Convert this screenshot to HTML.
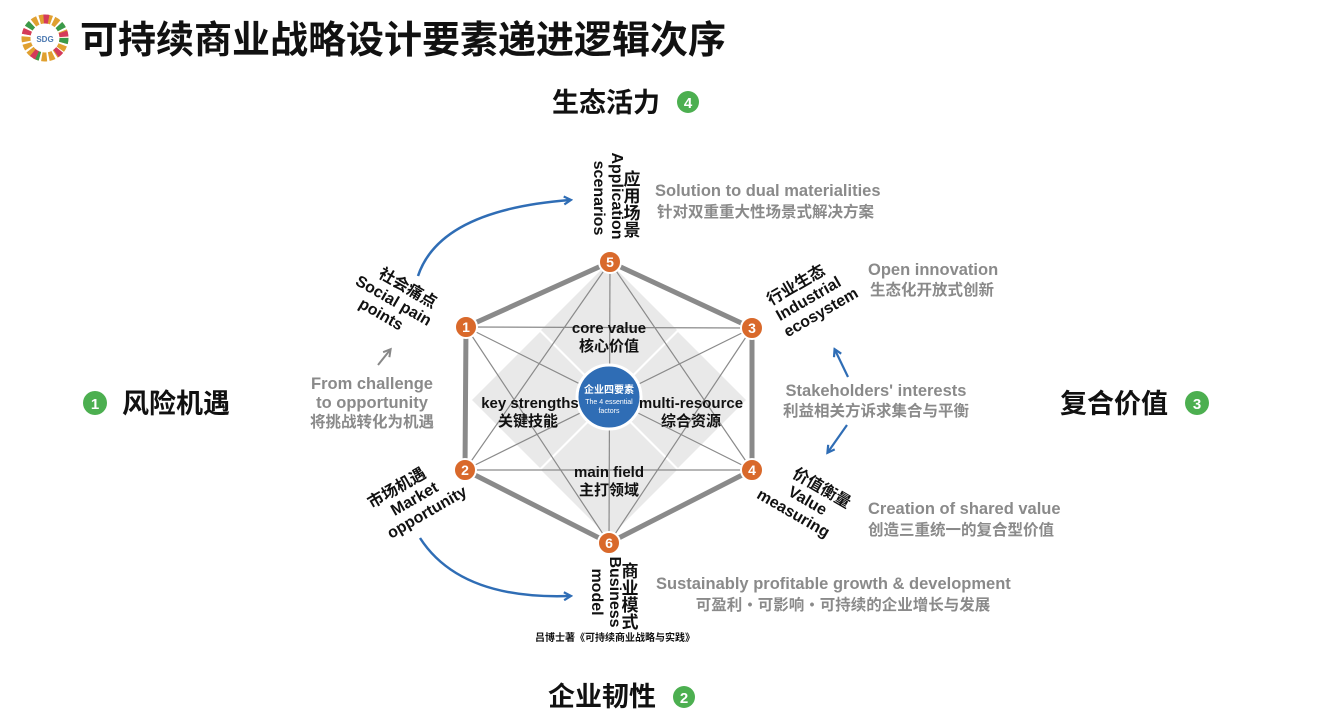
<!DOCTYPE html>
<html><head><meta charset="utf-8"><style>
body{margin:0;background:#fff;width:1320px;height:713px;overflow:hidden}
svg{display:block}
text{font-family:"Liberation Sans","Noto Sans CJK SC",sans-serif}
.b{font-weight:bold;fill:#111}
.g{font-weight:bold;fill:#8a8a8a;font-size:16.5px}
.gc{font-weight:bold;fill:#8a8a8a;font-size:15.5px}
</style></head><body>
<svg width="1320" height="713" viewBox="0 0 1320 713">
<defs>
<marker id="ab" markerWidth="10" markerHeight="10" refX="7" refY="5" orient="auto" markerUnits="userSpaceOnUse"><path d="M1,1 L8,5 L1,9" fill="none" stroke="#2f6db5" stroke-width="2.2"/></marker>
<marker id="ag" markerWidth="10" markerHeight="10" refX="7" refY="5" orient="auto" markerUnits="userSpaceOnUse"><path d="M1,1 L8,5 L1,9" fill="none" stroke="#888" stroke-width="2"/></marker>
</defs>
<!-- logo -->
<circle cx="45" cy="38" r="19" fill="none" stroke="#e0a030" stroke-width="9" stroke-dasharray="5 2"/>
<circle cx="45" cy="38" r="19" fill="none" stroke="#3a9a4a" stroke-width="9" stroke-dasharray="5 30" />
<circle cx="45" cy="38" r="19" fill="none" stroke="#d43a5a" stroke-width="9" stroke-dasharray="5 20" stroke-dashoffset="12"/>
<circle cx="45" cy="38" r="12" fill="#fff"/>
<text x="45" y="42" font-size="8" text-anchor="middle" fill="#4a78b0" font-weight="bold">SDG</text>
<text x="80" y="53" font-size="38" class="b">可持续商业战略设计要素递进逻辑次序</text>

<!-- side labels -->
<text x="552" y="112" font-size="27" class="b">生态活力</text>
<circle cx="688" cy="102" r="11" fill="#4caf50"/><text x="688" y="108" font-size="15" fill="#fff" text-anchor="middle" font-weight="bold">4</text>
<circle cx="95" cy="403" r="12" fill="#4caf50"/><text x="95" y="409" font-size="15" fill="#fff" text-anchor="middle" font-weight="bold">1</text>
<text x="122" y="413" font-size="27" class="b">风险机遇</text>
<text x="1060" y="413" font-size="27" class="b">复合价值</text>
<circle cx="1197" cy="403" r="12" fill="#4caf50"/><text x="1197" y="409" font-size="15" fill="#fff" text-anchor="middle" font-weight="bold">3</text>
<text x="548" y="706" font-size="27" class="b">企业韧性</text>
<circle cx="684" cy="697" r="11" fill="#4caf50"/><text x="684" y="703" font-size="15" fill="#fff" text-anchor="middle" font-weight="bold">2</text>

<!-- diamonds -->
<g fill="#e9e9e9">
<path d="M609,262 L677,330 L609,398 L541,330Z"/>
<path d="M540,332 L608,400 L540,468 L472,400Z"/>
<path d="M678,332 L746,400 L678,468 L610,400Z"/>
<path d="M609,402 L677,470 L609,538 L541,470Z"/>
</g>
<g stroke="#8a8a8a" stroke-width="1.2">
<line x1="466" y1="327" x2="752" y2="328"/><line x1="465" y1="470" x2="752" y2="470"/>
<line x1="610" y1="262" x2="609" y2="543"/>
<line x1="466" y1="327" x2="752" y2="470"/><line x1="752" y1="328" x2="465" y2="470"/>
<line x1="610" y1="262" x2="465" y2="470"/><line x1="610" y1="262" x2="752" y2="470"/>
<line x1="609" y1="543" x2="466" y2="327"/><line x1="609" y1="543" x2="752" y2="328"/>
</g>
<path d="M610,262 L752,328 L752,470 L609,543 L465,470 L466,327Z" fill="none" stroke="#8a8a8a" stroke-width="5"/>
<circle cx="609" cy="397" r="32" fill="#2f6db5" stroke="#fff" stroke-width="3"/>
<text x="609" y="393" font-size="10" fill="#fff" text-anchor="middle" font-weight="bold">企业四要素</text>
<text x="609" y="404" font-size="7" fill="#fff" text-anchor="middle">The 4 essential</text>
<text x="609" y="413" font-size="7" fill="#fff" text-anchor="middle">factors</text>
<g font-size="15" text-anchor="middle" class="b">
<text x="609" y="333">core value</text><text x="609" y="351">核心价值</text>
<text x="530" y="408">key strengths</text><text x="528" y="426">关键技能</text>
<text x="691" y="408">multi-resource</text><text x="691" y="426">综合资源</text>
<text x="609" y="477">main field</text><text x="609" y="495">主打领域</text>
</g>
<g font-size="14" font-weight="bold" fill="#fff" text-anchor="middle">
<circle cx="610" cy="262" r="11" fill="#d9692b" stroke="#fff" stroke-width="2"/><text x="610" y="267">5</text>
<circle cx="466" cy="327" r="11" fill="#d9692b" stroke="#fff" stroke-width="2"/><text x="466" y="332">1</text>
<circle cx="752" cy="328" r="11" fill="#d9692b" stroke="#fff" stroke-width="2"/><text x="752" y="333">3</text>
<circle cx="465" cy="470" r="11" fill="#d9692b" stroke="#fff" stroke-width="2"/><text x="465" y="475">2</text>
<circle cx="752" cy="470" r="11" fill="#d9692b" stroke="#fff" stroke-width="2"/><text x="752" y="475">4</text>
<circle cx="609" cy="543" r="11" fill="#d9692b" stroke="#fff" stroke-width="2"/><text x="609" y="548">6</text>
</g>
<g class="b" font-size="16">
<g font-size="17" text-anchor="middle">
<text x="632" y="185">应</text><text x="632" y="202">用</text><text x="632" y="219">场</text><text x="632" y="236">景</text>
<text x="630" y="577">商</text><text x="630" y="594">业</text><text x="630" y="611">模</text><text x="630" y="628">式</text>
</g>
<g transform="translate(612,196) rotate(90)"><text x="0" y="0" text-anchor="middle">Application</text><text x="2" y="18" text-anchor="middle">scenarios</text></g>
<g transform="translate(610,592) rotate(90)"><text x="0" y="0" text-anchor="middle">Business</text><text x="0" y="18" text-anchor="middle">model</text></g>
<g transform="translate(394,300) rotate(30)"><text x="6" y="-12" text-anchor="middle">社会痛点</text><text x="0" y="6" text-anchor="middle">Social pain</text><text x="-4" y="24" text-anchor="middle">points</text></g>
<g transform="translate(414,498) rotate(-30)"><text x="-10" y="-12" text-anchor="middle">市场机遇</text><text x="0" y="6" text-anchor="middle">Market</text><text x="4" y="24" text-anchor="middle">opportunity</text></g>
<g transform="translate(808,298) rotate(-30)"><text x="-4" y="-12" text-anchor="middle">行业生态</text><text x="0" y="6" text-anchor="middle">Industrial</text><text x="4" y="24" text-anchor="middle">ecosystem</text></g>
<g transform="translate(808,500) rotate(30)"><text x="6" y="-12" text-anchor="middle">价值衡量</text><text x="0" y="6" text-anchor="middle">Value</text><text x="-6" y="24" text-anchor="middle">measuring</text></g>
</g>
<text x="655" y="196" class="g">Solution to dual materialities</text>
<text x="657" y="217" class="gc">针对双重重大性场景式解决方案</text>
<text x="868" y="275" class="g">Open innovation</text>
<text x="870" y="295" class="gc">生态化开放式创新</text>
<text x="876" y="396" class="g" text-anchor="middle">Stakeholders' interests</text>
<text x="876" y="416" class="gc" text-anchor="middle">利益相关方诉求集合与平衡</text>
<text x="868" y="514" class="g">Creation of shared value</text>
<text x="868" y="535" class="gc">创造三重统一的复合型价值</text>
<text x="656" y="589" class="g">Sustainably profitable growth &amp; development</text>
<text x="843" y="610" class="gc" text-anchor="middle">可盈利・可影响・可持续的企业增长与发展</text>
<text x="372" y="389" class="g" text-anchor="middle">From challenge</text>
<text x="372" y="408" class="g" text-anchor="middle">to opportunity</text>
<text x="372" y="427" class="gc" text-anchor="middle">将挑战转化为机遇</text>
<text x="615" y="641" font-size="10" text-anchor="middle" class="b">吕博士著《可持续商业战略与实践》</text>
<path d="M418,276 Q440,210 570,200" fill="none" stroke="#2f6db5" stroke-width="2.5" marker-end="url(#ab)"/>
<path d="M420,538 Q460,600 570,596" fill="none" stroke="#2f6db5" stroke-width="2.5" marker-end="url(#ab)"/>
<path d="M848,377 L835,350" fill="none" stroke="#2f6db5" stroke-width="2.2" marker-end="url(#ab)"/>
<path d="M847,425 L828,452" fill="none" stroke="#2f6db5" stroke-width="2.2" marker-end="url(#ab)"/>
<path d="M378,365 L390,350" fill="none" stroke="#888" stroke-width="2" marker-end="url(#ag)"/>
</svg>
</body></html>
